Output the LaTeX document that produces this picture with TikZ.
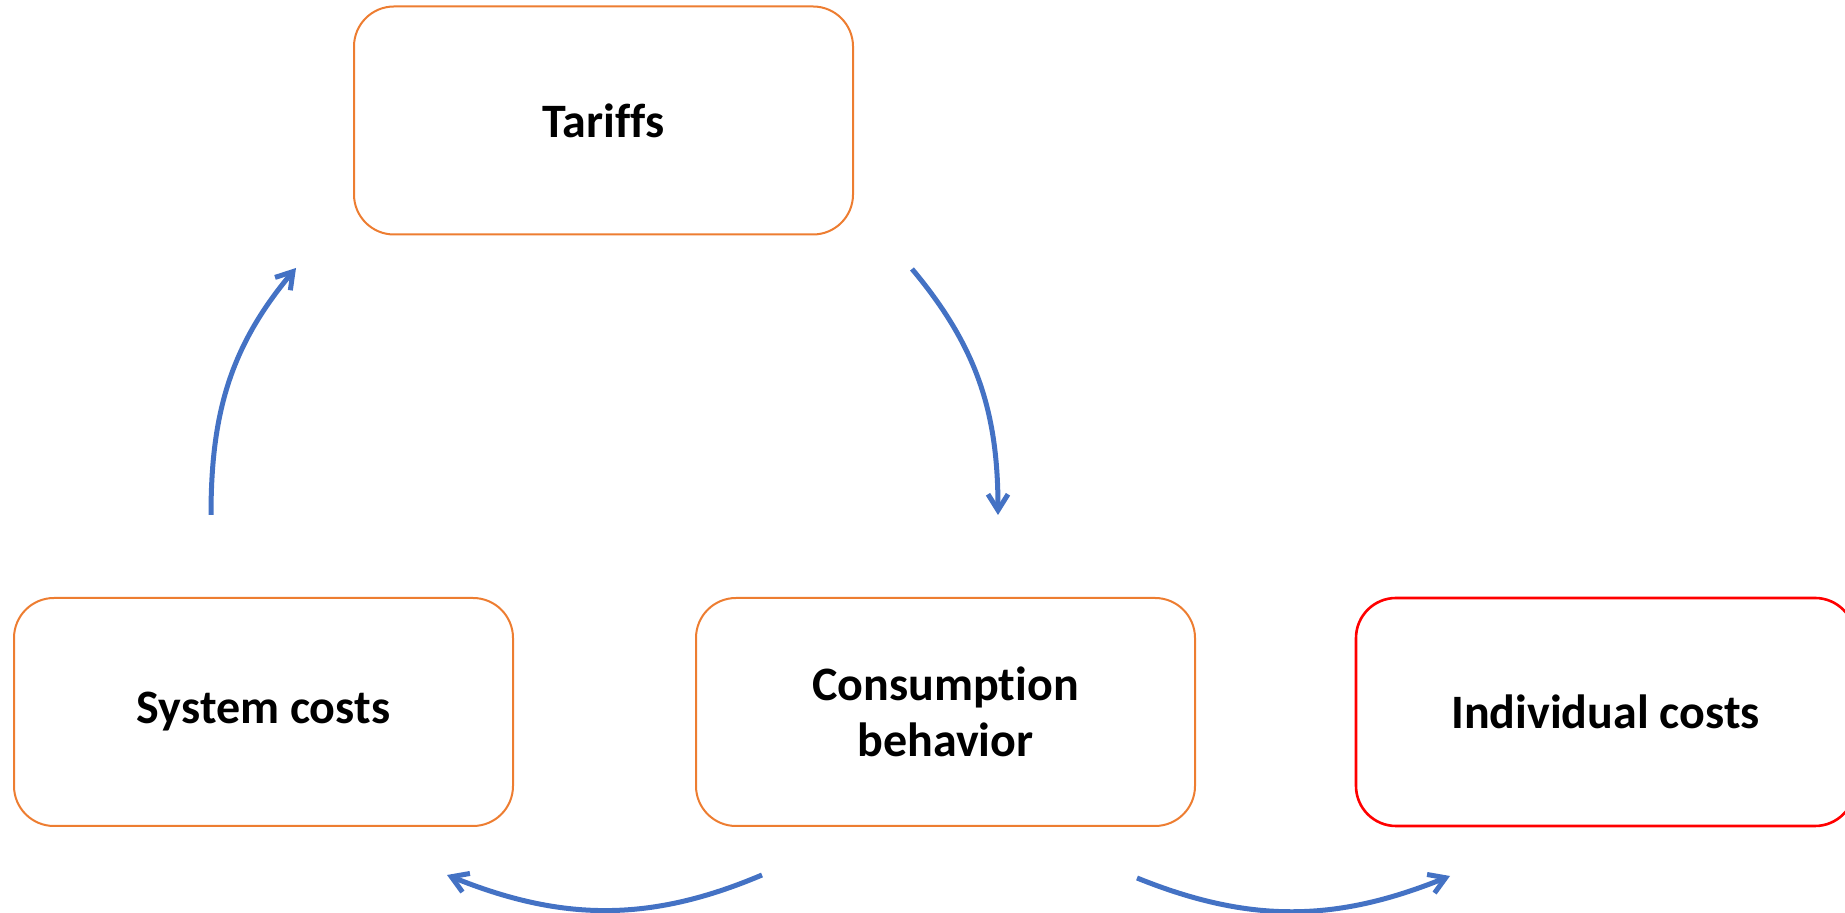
\documentclass[tikz,border=0pt]{standalone}
\usepackage{fontspec}
\setmainfont[Ligatures=NoCommon]{Carlito}
\usetikzlibrary{arrows.meta}
\definecolor{officeblue}{RGB}{68, 114, 196}
\definecolor{officeorange}{RGB}{237, 125, 49}
\definecolor{brightred}{RGB}{255, 0, 0}
\tikzset{
  box/.style={draw=officeorange, line width=1pt, rounded corners=20pt,
              minimum width=249.5pt, minimum height=114pt, inner sep=0pt, outer sep=0pt,
              align=center, font=\bfseries\fontsize{24}{28}\selectfont},
  flow/.style={draw=officeblue, line width=2.5pt, -{Straight Barb[length=8pt,width=10pt]}}
}

\begin{document}
\begin{tikzpicture}[x=0.5pt, y=0.5pt]
            \useasboundingbox                                  (0, 0)         rectangle (1845, 913);
            \node[box]                            (tariffs)     at (603.5, 792.5) {Tariffs};
            \node[box]                            (system)      at (263.5, 201.0) {System costs};
            \node[box]                            (consumption) at (945.5, 201.0) {Consumption\\behavior};
            \node[box, draw=brightred, line width=1.3pt] (individual) at (1605.5, 201.0) {Individual costs};
            \coordinate (sysout)   at ( 211, 398);
            \coordinate (tarin)    at ( 296, 645);
            \coordinate (tarout)   at ( 912, 644);
            \coordinate (conin)    at ( 998, 398);
            \coordinate (conleft)  at ( 762,  38);
            \coordinate (sysin)    at ( 447,  38);
            \coordinate (conright) at (1137,  35);
            \coordinate (indin)    at (1450,  37);
            \draw[flow] (sysout)   to[out=90,  in=230] (tarin);
            \draw[flow] (tarout)   to[out=-50, in=90]  (conin);
            \draw[flow] (conleft)  to[out=203, in=-22] (sysin);
            \draw[flow] (conright) to[out=-22, in=202] (indin);
\end{tikzpicture}
\end{document}
